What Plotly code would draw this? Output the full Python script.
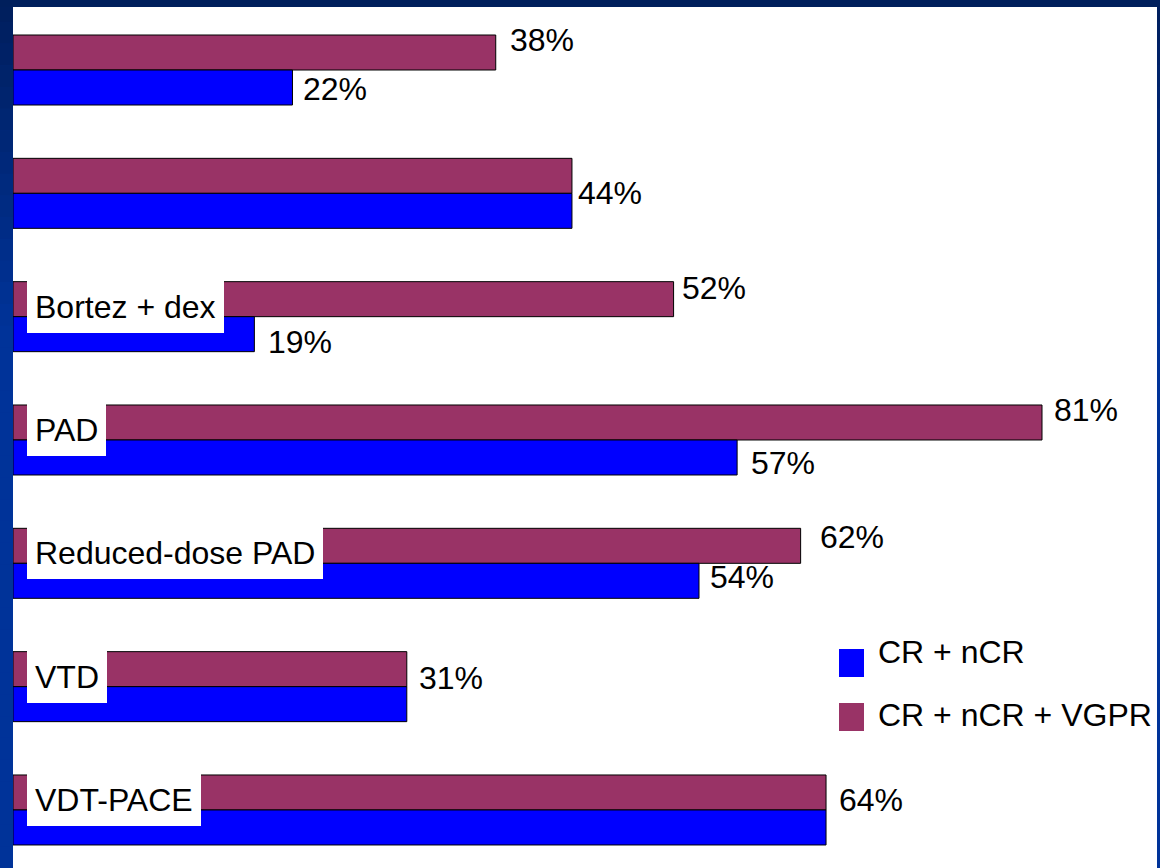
import plotly.graph_objects as go

# Response rates per regimen (%), top to bottom
groups = ["", "", "Bortez + dex", "PAD", "Reduced-dose PAD", "VTD", "VDT-PACE"]
cr_ncr = [22, 44, 19, 57, 54, 31, 64]
cr_ncr_vgpr = [38, 44, 52, 81, 62, 31, 64]
series_names = ["CR + nCR", "CR + nCR + VGPR"]

# value labels: a single shared label is printed where both bars are equal
show_cr_label = [True, False, True, True, True, False, False]
show_vgpr_label = [True, True, True, True, True, True, True]

# label placement in pixels: (gap right of bar end, vertical offset from group centre)
vgpr_label_pos = [(13, -30), (5, 0), (7, -29), (11, -30), (18, -26), (11, -9), (12, -10)]
cr_label_pos = [(10, 19), None, (13, 25), (13, 23), (10, 14), None, None]

BLUE = "#0000FF"
PLUM = "#993366"
FONT = "Liberation Sans, Arial, sans-serif"
FS = 32

W, H = 1160, 868
ML, MR, MT, MB = 13, 3, 7, 0
PW, PH = W - ML - MR, H - MT - MB
PITCH = 123.33
FIRST_CENTER = 70


def px(x_pix):
    return (x_pix - ML) / PW


def py(y_pix):
    return 1 - (y_pix - MT) / PH


positions = list(range(len(groups)))

fig = go.Figure()
fig.add_trace(go.Bar(
    y=positions, x=cr_ncr_vgpr, orientation="h", name=series_names[1],
    marker=dict(color=PLUM, line=dict(color="#000000", width=1)),
    showlegend=False, hoverinfo="x",
))
fig.add_trace(go.Bar(
    y=positions, x=cr_ncr, orientation="h", name=series_names[0],
    marker=dict(color=BLUE, line=dict(color="#000000", width=1)),
    showlegend=False, hoverinfo="x",
))

annotations = []
for i, v in enumerate(cr_ncr_vgpr):
    if show_vgpr_label[i]:
        dx, dy = vgpr_label_pos[i]
        annotations.append(dict(
            x=v, y=positions[i], xref="x", yref="y", text=f"{v}%",
            showarrow=False, xanchor="left", yanchor="middle",
            xshift=dx - 1, yshift=-dy, font=dict(family=FONT, size=FS, color="#000000"),
        ))
for i, v in enumerate(cr_ncr):
    if show_cr_label[i]:
        dx, dy = cr_label_pos[i]
        annotations.append(dict(
            x=v, y=positions[i], xref="x", yref="y", text=f"{v}%",
            showarrow=False, xanchor="left", yanchor="middle",
            xshift=dx - 1, yshift=-dy, font=dict(family=FONT, size=FS, color="#000000"),
        ))

# regimen names in white boxes over the bars
for i, name in enumerate(groups):
    if name:
        annotations.append(dict(
            x=px(27), y=positions[i], xref="paper", yref="y", text=name,
            showarrow=False, xanchor="left", yanchor="middle", yshift=10,
            bgcolor="#FFFFFF", borderpad=8, borderwidth=0,
            font=dict(family=FONT, size=FS, color="#000000"),
        ))

# legend drawn by hand
shapes = []
legend_rows = [(series_names[0], BLUE, 649, 677, 652), (series_names[1], PLUM, 703, 731, 715)]
for name, color, top, bottom, text_y in legend_rows:
    shapes.append(dict(
        type="rect", xref="paper", yref="paper",
        x0=px(839), x1=px(864), y0=py(bottom), y1=py(top),
        fillcolor=color, line=dict(width=0),
    ))
    annotations.append(dict(
        x=px(876), y=py(text_y), xref="paper", yref="paper", text=name,
        showarrow=False, xanchor="left", yanchor="middle",
        font=dict(family=FONT, size=FS, color="#000000"),
    ))

# navy frame with a vertical gradient
top_rgb = (0, 30, 92)
low_rgb = (0, 51, 153)
steps = 40
for s in range(steps):
    y0p = H * s / steps
    y1p = H * (s + 1) / steps
    t = min(1.0, ((y0p + y1p) / 2) / 330)
    r = round(top_rgb[0] + (low_rgb[0] - top_rgb[0]) * t)
    g = round(top_rgb[1] + (low_rgb[1] - top_rgb[1]) * t)
    b = round(top_rgb[2] + (low_rgb[2] - top_rgb[2]) * t)
    col = f"rgb({r},{g},{b})"
    for xa, xb in ((0, ML), (W - MR, W)):
        shapes.append(dict(
            type="rect", xref="paper", yref="paper",
            x0=px(xa), x1=px(xb), y0=py(y1p + 0.5), y1=py(y0p),
            fillcolor=col, line=dict(width=0), layer="below",
        ))
shapes.append(dict(
    type="rect", xref="paper", yref="paper",
    x0=px(0), x1=px(W), y0=py(MT), y1=py(0),
    fillcolor="#001F5C", line=dict(width=0), layer="below",
))

y_top = (MT - FIRST_CENTER) / PITCH
y_bottom = (H - MB - FIRST_CENTER) / PITCH
x_max = PW / ((1042 - ML) / 81)

fig.update_layout(
    width=W, height=H,
    margin=dict(l=ML, r=MR, t=MT, b=MB, pad=0),
    paper_bgcolor="#003399",
    plot_bgcolor="#FFFFFF",
    barmode="group",
    bargap=0.4324,
    bargroupgap=0,
    showlegend=False,
    xaxis=dict(range=[0, x_max], showgrid=False, zeroline=False, showline=False,
               showticklabels=False, ticks="", fixedrange=True),
    yaxis=dict(range=[y_bottom, y_top], showgrid=False, zeroline=False, showline=False,
               showticklabels=False, ticks="", fixedrange=True),
    annotations=annotations,
    shapes=shapes,
    font=dict(family=FONT),
)

fig.write_html("out.html", config={"displayModeBar": False})
